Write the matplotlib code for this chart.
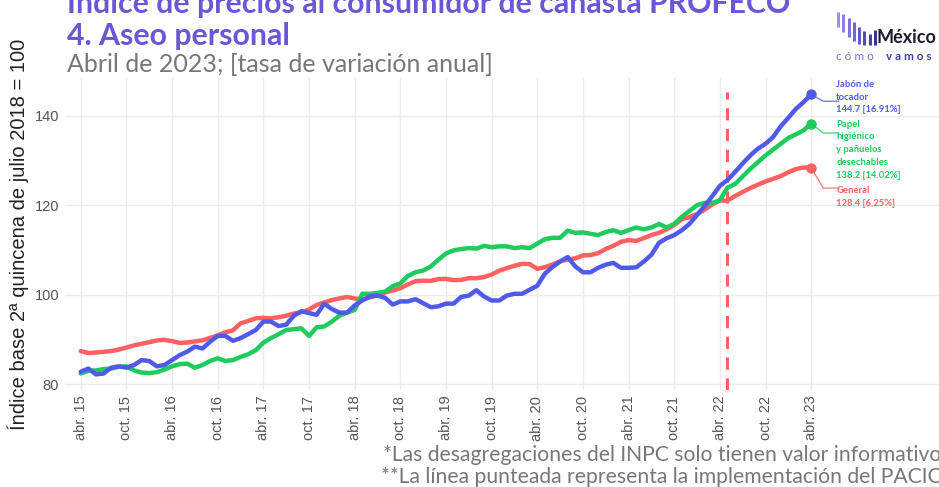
import matplotlib
matplotlib.use("Agg")
import matplotlib.pyplot as plt
import numpy as np

# monthly index values, abr. 2015 - abr. 2023 (base 2a quincena jul 2018 = 100)
general = [87.40, 86.97, 87.11, 87.24, 87.42, 87.75, 88.20, 88.68, 89.05,
           89.39, 89.78, 89.91, 89.63, 89.23, 89.32, 89.56, 89.81, 90.36, 90.91, 91.62, 92.04,
           93.60, 94.14, 94.72, 94.84, 94.73, 94.96, 95.32, 95.79, 96.09, 96.70, 97.70, 98.27,
           98.80, 99.17, 99.49, 99.15, 98.99, 99.38, 99.91, 100.49, 100.92, 101.44, 102.30, 103.02,
           103.11, 103.08, 103.48, 103.53, 103.23, 103.30, 103.69, 103.67, 103.94, 104.50, 105.35, 105.93,
           106.45, 106.89, 106.84, 105.76, 106.16, 106.74, 107.44, 107.87, 108.11, 108.77, 108.86, 109.27,
           110.21, 110.91, 111.82, 112.19, 112.01, 112.64, 113.32, 113.80, 114.60, 115.56, 116.88, 117.31,
           118.00, 118.98, 120.16, 121.02, 121.02, 122.04, 122.95, 123.80, 124.57, 125.28, 125.87, 126.48,
           127.34, 128.05, 128.39, 128.36]

jabon = [82.8, 83.5, 82.2, 82.4, 83.7, 84.0, 83.7, 84.3, 85.4, 85.2,
         84.0, 84.3, 85.4, 86.5, 87.3, 88.4, 88.0, 89.5, 90.8, 90.8,
         89.7, 90.3, 91.2, 92.1, 94.0, 94.0, 93.0, 93.3, 95.3, 96.3,
         95.9, 95.5, 98.0, 96.8, 96.0, 96.0, 97.6,
         98.7, 99.6, 99.8, 99.3, 97.8, 98.5, 98.5, 99.0, 98.1, 97.2,
         97.4, 98.0, 98.0, 99.5, 99.8, 101.0, 99.6, 98.7, 98.7, 99.8,
         100.2, 100.2, 101.1, 102.0, 104.7, 106.2, 107.4, 108.4, 106.3, 105.0,
         105.0, 106.0, 106.7, 107.1, 106.0, 106.0, 106.1,
         107.4, 108.9, 111.6, 112.6, 113.3, 114.4, 115.8, 117.8, 119.8, 122.0,
         124.3, 125.6, 127.4, 129.3, 131.1, 132.6, 133.7, 135.2, 137.6, 139.5,
         141.5, 143.0, 144.7]

papel = [82.4, 83.0, 83.1, 83.4, 83.5, 83.9, 84.0, 83.1, 82.6, 82.5,
         82.7, 83.3, 84.0, 84.5, 84.6, 83.7, 84.3, 85.2, 85.8, 85.2,
         85.4, 86.1, 86.7, 87.6, 89.3, 90.3, 91.2, 92.1, 92.3, 92.5,
         90.8, 92.7, 92.9, 94.0, 95.3, 96.0, 96.6,
         100.2, 100.2, 100.4, 100.7, 101.9, 102.5, 104.2, 105.0, 105.4, 106.3,
         107.8, 109.2, 109.9, 110.2, 110.4, 110.3, 110.9, 110.6, 110.8, 110.8,
         110.4, 110.6, 110.4, 111.4, 112.4, 112.7, 112.7, 114.3, 113.8, 113.9,
         113.6, 113.3, 114.0, 114.4, 113.8, 114.4, 115.0,
         114.6, 115.0, 115.8, 115.0, 115.8, 117.4, 118.7, 120.0, 120.5, 120.5,
         121.1, 123.9, 124.7, 126.4, 128.1, 129.6, 131.1, 132.4, 133.7, 135.0,
         135.8, 136.7, 138.2]

tick_labels = ["abr. 15", "oct. 15", "abr. 16", "oct. 16", "abr. 17", "oct. 17",
               "abr. 18", "oct. 18", "abr. 19", "oct. 19", "abr. 20", "oct. 20",
               "abr. 21", "oct. 21", "abr. 22", "oct. 22", "abr. 23"]
pacic_month = 85  # may. 2022

labels = ["Jabón de\ntocador\n144.7 [16.91%]",
          "Papel\nhigiénico\ny pañuelos\ndesechables\n138.2 [14.02%]",
          "General\n128.4 [6.25%]"]

c_blue = "#4F5AE8"
c_green = "#1FCB5C"
c_red = "#FF6161"
c_title = "#6A56D6"

months = np.arange(len(general))

fig = plt.figure(figsize=(9.39, 4.87), dpi=100)
ax = fig.add_axes([0.069, 0.199, 0.931, 0.641])

for s, c in [(general, c_red), (papel, c_green), (jabon, c_blue)]:
    ax.plot(months, s, color=c, lw=3.2, solid_capstyle="round", zorder=3)
    ax.plot(months[-1], s[-1], "o", color=c, ms=6.5, zorder=4)

ax.axvline(pacic_month, ymax=0.955, color=c_red, lw=2.2, ls=(0, (4, 2.8)), zorder=2)

# end labels with connectors
lab_x = 99.3
for s, c, txt, ly, ty in [(jabon, c_blue, labels[0], 143.2, 148.0),
                          (papel, c_green, labels[1], 136.1, 139.1),
                          (general, c_red, labels[2], 123.8, 124.3)]:
    ax.plot([months[-1], months[-1] + 1.6, lab_x + 0.3], [s[-1], ly, ly],
            color=c, lw=0.9, alpha=0.85, clip_on=False, zorder=3)
    ax.text(lab_x, ty, txt, color=c, fontsize=6.8, fontweight="bold",
            family="Lato", va="top", ha="left", linespacing=1.55)

ax.set_xlim(-2.1, 112.8)
ax.set_ylim(78.7, 148.4)
ax.set_xticks(np.arange(0, 97, 6))
ax.set_xticklabels(tick_labels, rotation=90, fontsize=10.5, color="#555555",
                   family="Liberation Sans")
ax.set_yticks([80, 100, 120, 140])
ax.set_yticklabels(["80", "100", "120", "140"], fontsize=10.5, color="#555555",
                   family="Liberation Sans")
ax.tick_params(length=0, pad=4)
ax.grid(True, color="#ebebeb", lw=1)
ax.set_axisbelow(True)
for sp in ax.spines.values():
    sp.set_visible(False)
ax.set_ylabel("Índice base 2ª quincena de julio 2018 = 100", fontsize=14.5,
              color="#222222", family="Liberation Sans", labelpad=4)

# titles
fig.text(67 / 939, 1 - 13 / 487, "Índice de precios al consumidor de canasta PROFECO",
         fontsize=21.8, fontweight="bold", color=c_title, family="Lato", va="baseline")
fig.text(67 / 939, 1 - 45 / 487, "4. Aseo personal", fontsize=21.8, fontweight="bold",
         color=c_title, family="Lato", va="baseline")
fig.text(67 / 939, 1 - 72 / 487, "Abril de 2023; [tasa de variación anual]",
         fontsize=18, color="#777777", family="Lato", va="baseline")

# captions
fig.text(383 / 939, 1 - 461 / 487,
         "*Las desagregaciones del INPC solo tienen valor informativo",
         fontsize=15.2, color="#777777", family="Lato", va="baseline")
fig.text(381 / 939, 1 - 483 / 487,
         "**La línea punteada representa la implementación del PACIC",
         fontsize=15.2, color="#777777", family="Lato", va="baseline")

# logo
bar_x = np.linspace(838, 875, 8)
bar_top = [12, 14, 18, 22, 27, 31, 34, 30]
bar_bot = [27, 32, 37, 41, 44, 45, 45, 45]
bar_col = ["#9C8FEA", "#8E82E4", "#7F74DC", "#7067D3", "#6159C7", "#524CB8", "#4441A8", "#37368F"]
for bx, bt, bb, bc in zip(bar_x, bar_top, bar_bot, bar_col):
    fig.add_artist(plt.Line2D([bx / 939, bx / 939], [1 - bt / 487, 1 - bb / 487],
                              color=bc, lw=2.2, solid_capstyle="butt"))
fig.text(877 / 939, 1 - 43 / 487, "México", fontsize=13, fontweight="bold",
         color="#1a1a2e", family="Lato", va="baseline")
fig.text(836 / 939, 1 - 60 / 487, "c ó m o", fontsize=8.5, color="#7F74DC",
         family="Lato", va="baseline")
fig.text(886 / 939, 1 - 60 / 487, "v a m o s", fontsize=8.5, fontweight="bold",
         color="#4441A8", family="Lato", va="baseline")

fig.savefig("out.png", dpi=100)
